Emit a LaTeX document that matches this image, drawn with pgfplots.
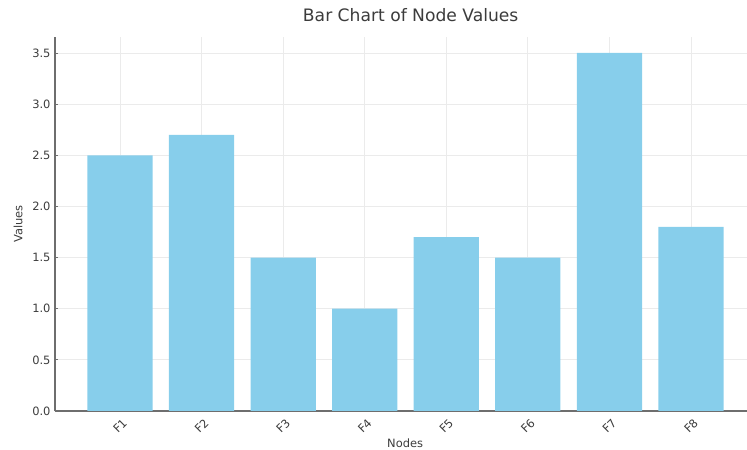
\documentclass[border=0pt]{standalone}
\usepackage{fontspec}
\setmainfont{DejaVu Sans}
\usepackage{pgfplots}
\pgfplotsset{compat=1.18}
\definecolor{skyblue}{RGB}{135,206,235}
\definecolor{txt}{RGB}{60,60,60}
\definecolor{spine}{RGB}{110,110,110}
\begin{document}
\begin{tikzpicture}
    \begin{axis}[
            scale only axis,
            width=692bp,
            height=374bp,
            xmin=-0.797, xmax=7.687,
            ymin=0, ymax=3.656,
            axis lines*=left,
            axis line style={spine, line width=1.1bp},
            xtick={0,...,7},
            xticklabels={F1,F2,F3,F4,F5,F6,F7,F8},
            ytick={0,0.5,...,3.5},
            /pgf/number format/.cd, fixed, fixed zerofill, precision=1, assume math mode=true,
            /pgfplots/.cd,
            tick align=inside,
            major tick length=3bp,
            tick style={spine, line width=0.8bp},
            grid=major,
            major grid style={gray!16, line width=0.8bp},
            tick label style={font=\fontsize{11.5}{13}\selectfont, txt},
            yticklabel style={xshift=-1bp},
            xticklabel style={yshift=-15bp, rotate=45, anchor=center},
            title={Bar Chart of Node Values},
            title style={font=\fontsize{17.2}{19}\selectfont, txt, at={(axis description cs:0.514,1)}, anchor=center, yshift=16bp},
            xlabel={Nodes},
            ylabel={Values},
            every axis x label/.style={at={(axis description cs:0.506,0)}, anchor=center, yshift=-32bp, font=\fontsize{11.5}{13}\selectfont, txt},
            every axis y label/.style={at={(axis description cs:-0.0535,0.5)}, rotate=90, anchor=center, font=\fontsize{11.5}{13}\selectfont, txt},
        ]
        \addplot [ybar, bar width=0.8, fill=skyblue, draw=none] coordinates {
                (0,2.5)
                (1,2.7)
                (2,1.5)
                (3,1.0)
                (4,1.7)
                (5,1.5)
                (6,3.5)
                (7,1.8)
            };
    \end{axis}
    \pgfresetboundingbox
    \path[use as bounding box] (-55bp,-39bp) rectangle (692bp,411bp);
\end{tikzpicture}
\end{document}
